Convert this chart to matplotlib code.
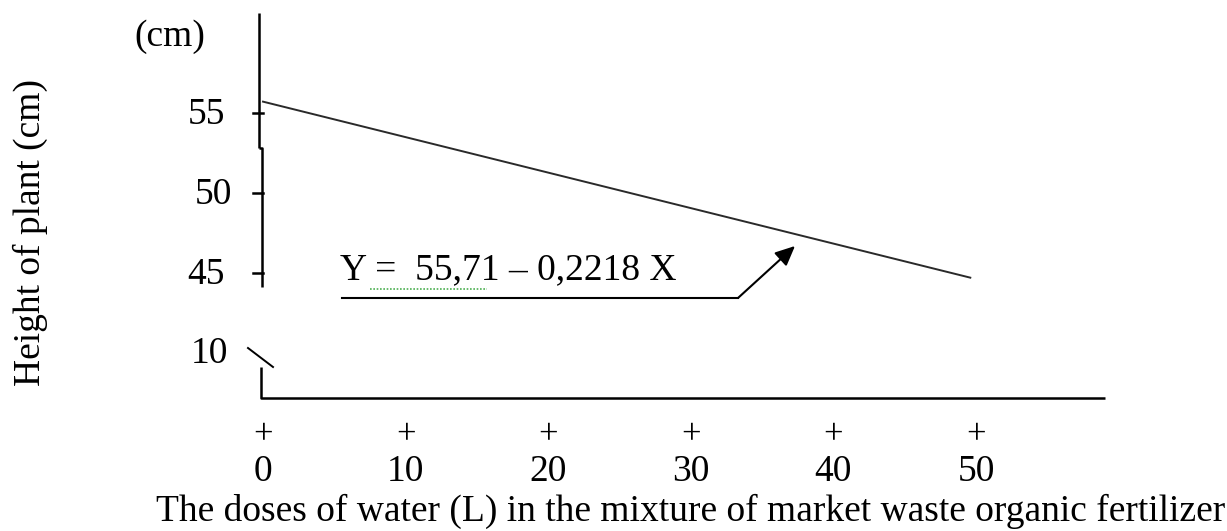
import matplotlib
matplotlib.use("Agg")
import matplotlib.pyplot as plt
import numpy as np

# ---- data ----
doses = [0, 10, 20, 30, 40, 50]
dose_labels = ["0", "10", "20", "30", "40", "50"]
intercept = 55.71
slope = -0.2218
line_x = [0, 49.6]
y_ticks = [55, 50, 45]
y_tick_labels = ["55", "50", "45"]
equation = "Y =  55,71 \u2013 0,2218 X"
xlabel = "The doses of water (L) in the mixture of market waste organic fertilizer"
ylabel = "Height of plant (cm)"

W, H = 1227, 531
fig = plt.figure(figsize=(W / 100, H / 100), dpi=100)
ax = fig.add_axes([0, 0, 1, 1])
ax.set_axis_off()

# linear scales: x 0 -> px 263, 50 -> px 976 ; y 55 -> px 113, 50 -> px 193
xs = (976 - 263) / 50.0
ys = (193 - 113) / 5.0
ax.set_xlim(-263 / xs, (W - 263) / xs)
ax.set_ylim(55 - (H - 113) / ys, 55 + 113 / ys)

def PX(p):
    return (p - 263) / xs

def PY(p):
    return 55 - (p - 113) / ys

FONT = "Liberation Serif"
FS = 27
k = dict(color="black", lw=1.8, solid_capstyle="butt")

# y axis (broken, hand-drawn look)
ax.plot([PX(259), PX(259)], [PY(13), PY(148)], **k)
ax.plot([PX(259), PX(262), PX(262)], [PY(148), PY(148), PY(287)], **k)
ax.plot([PX(261), PX(261), PX(1105)], [PY(367), PY(398), PY(398)], **k)
# break mark
ax.plot([PX(248), PX(273)], [PY(348), PY(367)], color="black", lw=1.4)

# y ticks
label_x = {"55": 206, "50": 213, "45": 206}
for v, lab in zip(y_ticks, y_tick_labels):
    ax.plot([PX(253), PX(263)], [v, v], color="black", lw=1.8)
    ax.text(PX(label_x[lab]), v - 0.1, lab, fontsize=FS, family=FONT,
            ha="center", va="center")
ax.text(PX(209), PY(354), "10", fontsize=FS, family=FONT, ha="center", va="center")
ax.text(PX(170), PY(37), "(cm)", fontsize=FS, family=FONT, ha="center", va="center")

# regression line
ly = [intercept + slope * x for x in line_x]
ax.plot(line_x, ly, color="#2a2a2a", lw=1.4)

# x "ticks"
for d, lab in zip(doses, dose_labels):
    ax.text(d, PY(436), "+", fontsize=FS - 2, family=FONT, ha="center", va="center")
    ax.text(d, PY(472), lab, fontsize=FS, family=FONT, ha="center", va="center")

ax.text(PX(691), PY(511), xlabel, fontsize=FS, family=FONT, ha="center", va="center")
ax.text(PX(30), PY(232), ylabel, fontsize=FS, family=FONT, ha="center", va="center",
        rotation=90)

# equation + callout arrow
ax.text(PX(340), PY(270), equation, fontsize=FS, family=FONT, ha="left", va="center")
ax.plot([PX(370), PX(487)], [PY(289), PY(289)], color="#4caf50", lw=1.2, ls=(0, (1, 1)))
ax.plot([PX(342), PX(738)], [PY(298), PY(298)], color="black", lw=1.5)
ax.annotate("", xy=(PX(795), PY(246)), xytext=(PX(738), PY(298)),
            arrowprops=dict(arrowstyle="-|>,head_length=1.2,head_width=0.55",
                            color="black", lw=1.5, shrinkA=0, shrinkB=0))

fig.savefig("out.png", dpi=100)
